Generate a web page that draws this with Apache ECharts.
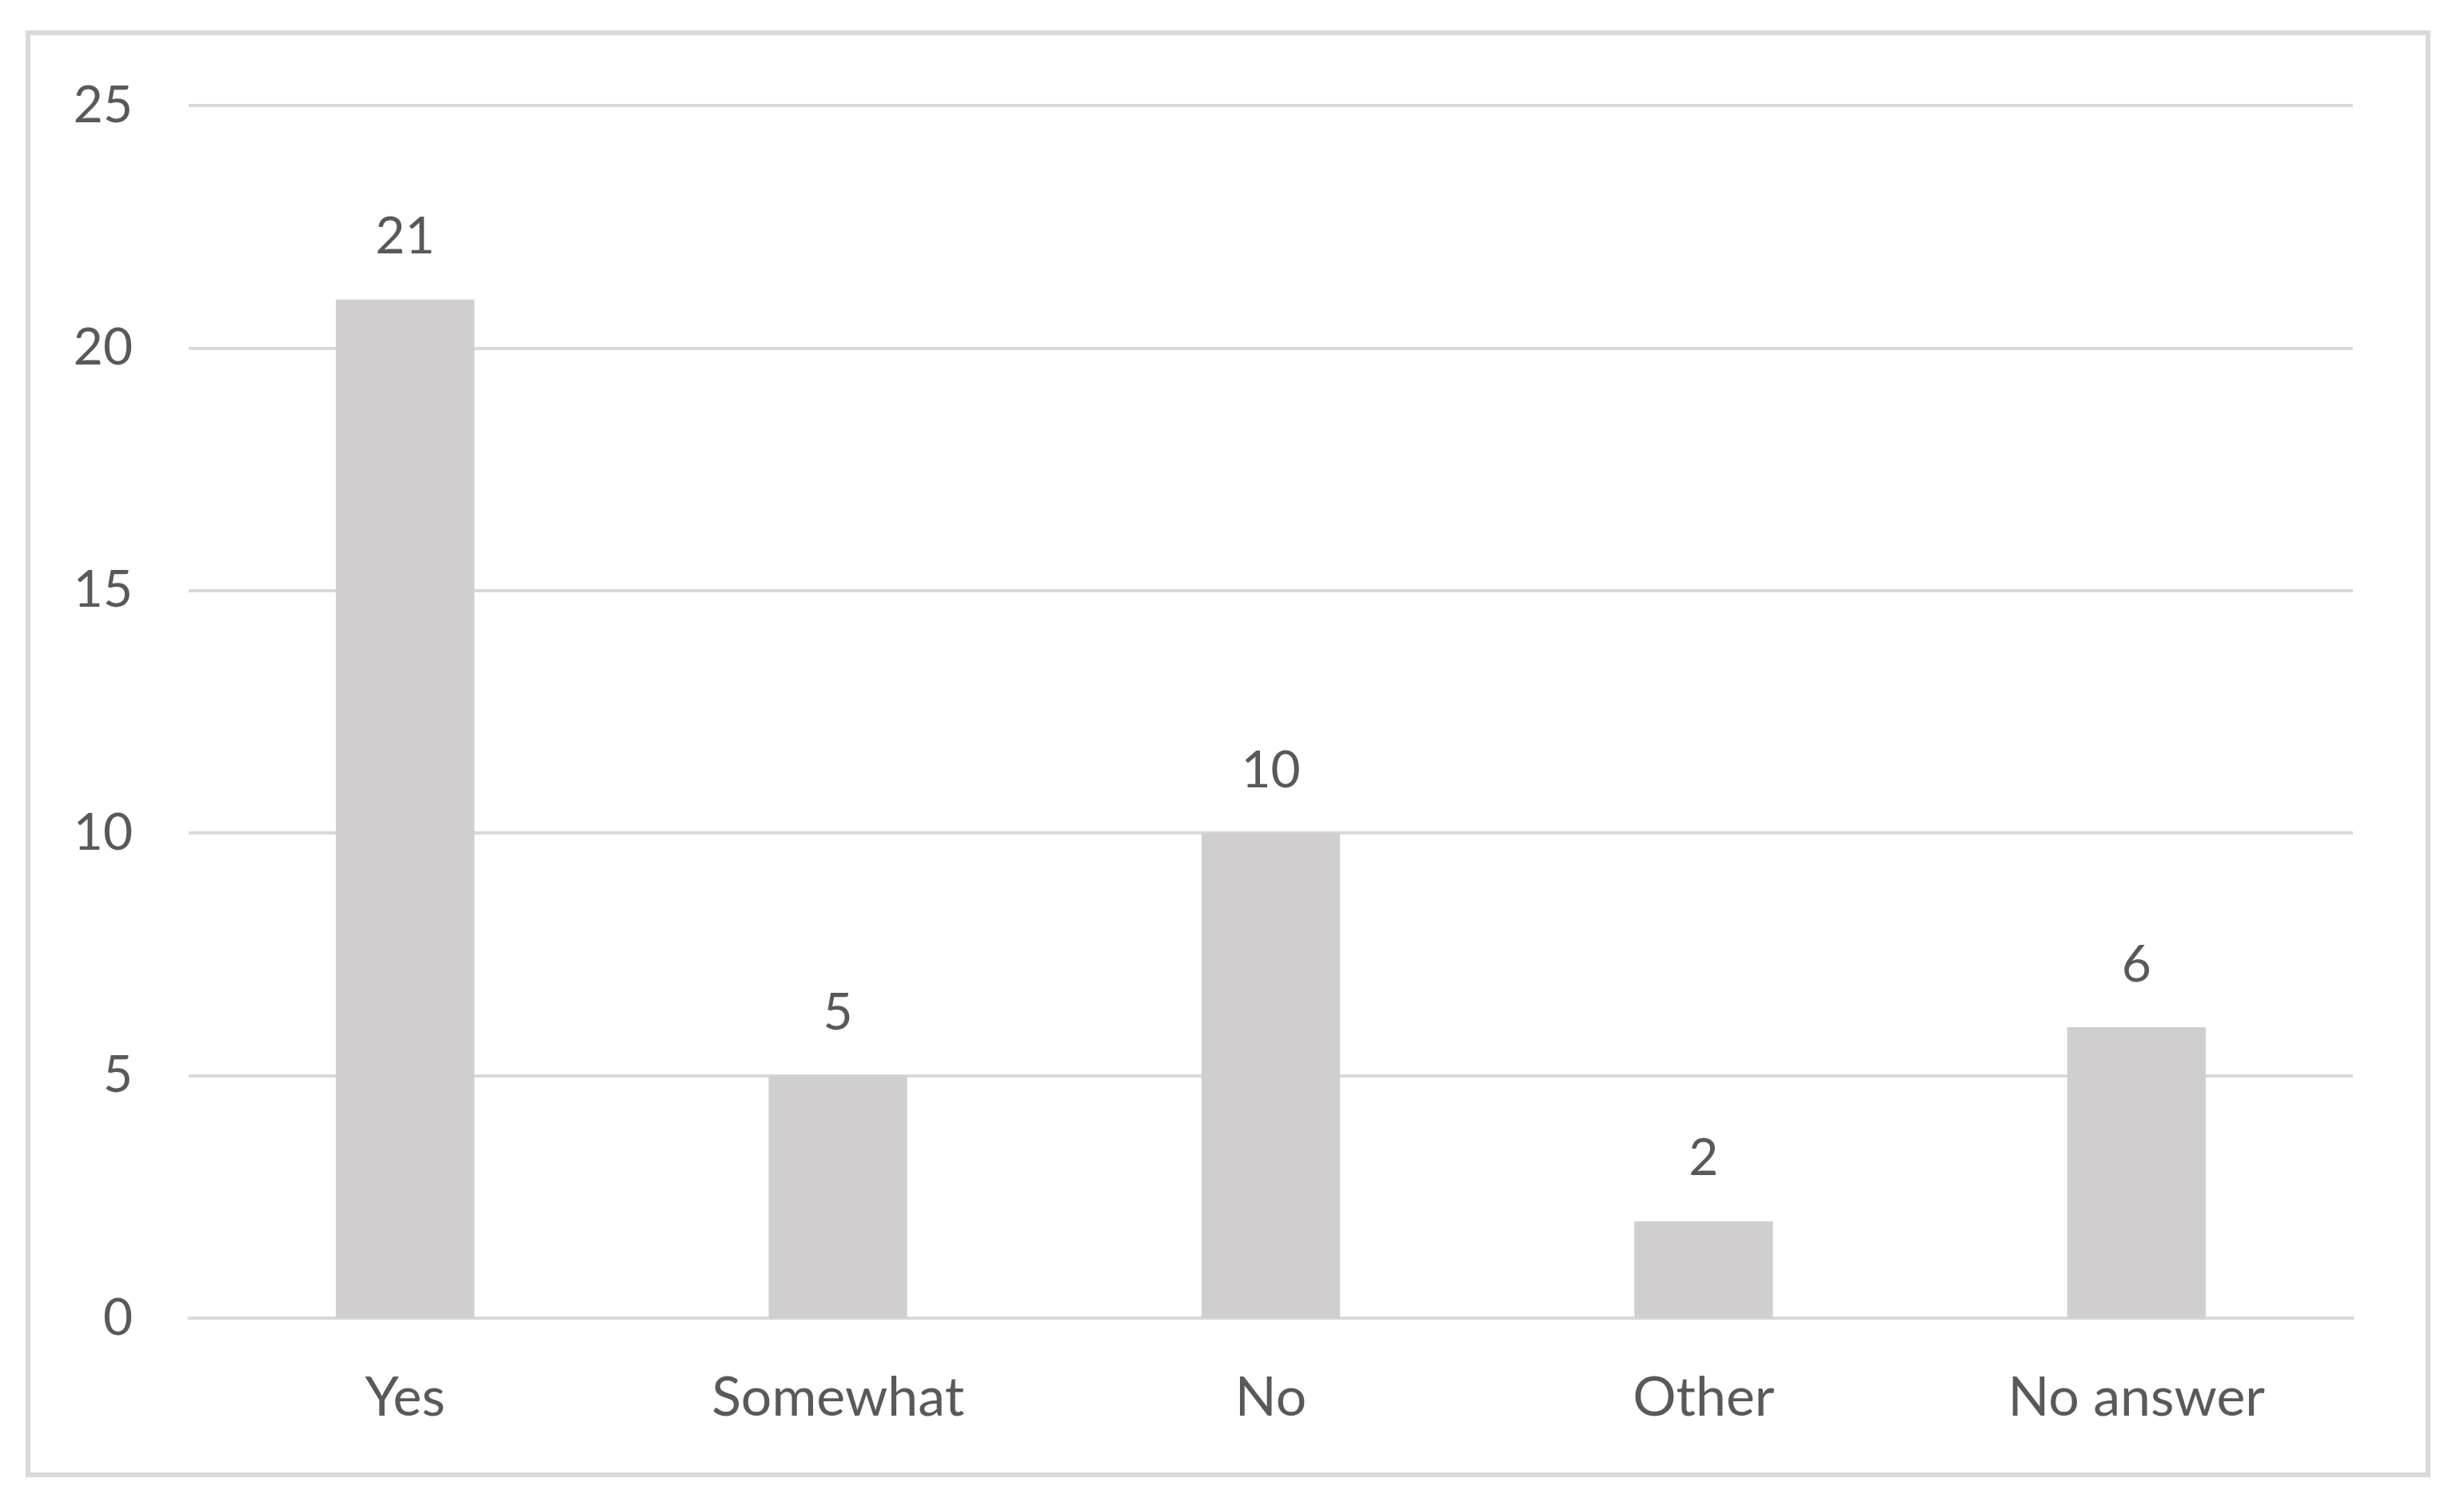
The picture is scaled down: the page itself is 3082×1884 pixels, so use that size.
<!DOCTYPE html>
<html>
<head>
<meta charset="utf-8">
<script src="https://cdn.jsdelivr.net/npm/echarts@6/dist/echarts.min.js"></script>
<style>
  html, body { margin: 0; padding: 0; background: #fff; }
  #chart { width: 3082px; height: 1884px; }
</style>
</head>
<body>
<div id="chart"></div>
<script>
const categories = ["Yes", "Somewhat", "No", "Other", "No answer"];
const counts = [21, 5, 10, 2, 6];
const yTicks = { min: 0, max: 25, interval: 5 };

const textColor = "#595959";
const lineColor = "#d9d9d9";
const fontFamily = "Lato, 'Open Sans', sans-serif";

const chart = echarts.init(document.getElementById("chart"));

chart.setOption({
  backgroundColor: "#ffffff",
  animation: false,
  graphic: [
    {
      type: "rect",
      shape: { x: 35, y: 41, width: 3002, height: 1804 },
      style: { fill: "none", stroke: lineColor, lineWidth: 6 },
      silent: true
    }
  ],
  grid: { left: 236, right: 139, top: 132, bottom: 235, containLabel: false },
  xAxis: {
    type: "category",
    data: categories,
    axisTick: { show: false },
    axisLine: { show: true, lineStyle: { color: lineColor, width: 4 } },
    axisLabel: {
      color: textColor,
      fontFamily,
      fontSize: 68,
      margin: 66
    }
  },
  yAxis: {
    type: "value",
    min: yTicks.min,
    max: yTicks.max,
    interval: yTicks.interval,
    axisLine: { show: false },
    axisTick: { show: false },
    splitLine: { lineStyle: { color: lineColor, width: 4 } },
    axisLabel: {
      color: textColor,
      fontFamily,
      fontSize: 64,
      margin: 70
    }
  },
  series: [
    {
      type: "bar",
      data: counts,
      barWidth: "32%",
      itemStyle: { color: "#d0cece" },
      label: {
        show: true,
        position: "top",
        distance: 46,
        color: textColor,
        fontFamily,
        fontSize: 64
      }
    }
  ]
});
</script>
</body>
</html>
